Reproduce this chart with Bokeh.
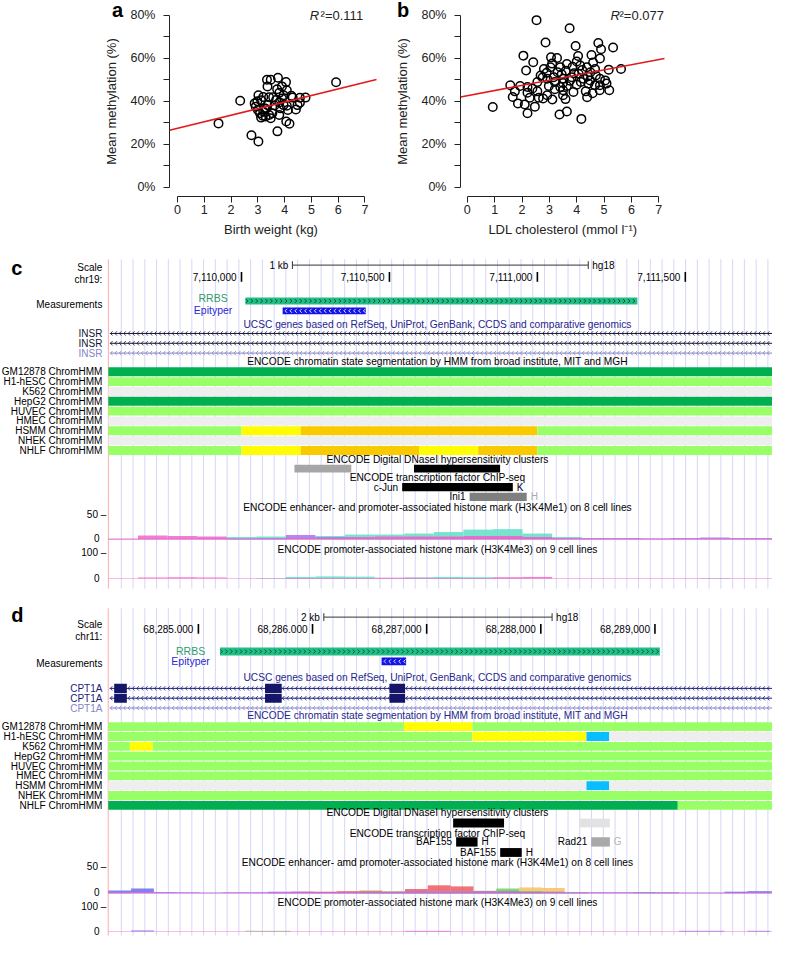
import numpy as np
from bokeh.plotting import figure
from bokeh.models import Range1d, FixedTicker, Label
from bokeh.layouts import column, row
from bokeh.embed import file_html
from bokeh.resources import INLINE
from bokeh.core.properties import value

FONT = "Liberation Sans"

# ============================ DATA ============================
# ---- panel a : birth weight vs mean methylation
a_birth_weight = [1.53, 2.34, 2.76, 3.02, 3.34, 3.48, 3.36, 3.75, 4.05, 3.90, 3.72, 4.08, 3.80, 3.96, 3.02,
                  3.20, 3.42, 3.57, 3.90, 4.30, 4.57, 4.78, 2.88, 2.92, 3.00, 3.12, 3.36, 3.80, 3.96, 4.08,
                  3.84, 4.12, 4.42, 4.48, 4.57, 3.08, 3.18, 3.29, 3.12, 3.42, 3.48, 3.20, 3.80, 3.54, 4.06,
                  4.18, 3.73, 5.92, 3.30, 3.62, 2.98, 3.25, 3.68, 4.25]
a_methylation = [29.7, 40.2, 24.2, 21.3, 50.0, 50.0, 46.9, 50.9, 48.9, 46.9, 45.6, 45.1, 43.9, 42.8, 42.8,
                 42.0, 41.9, 41.9, 41.3, 41.7, 41.6, 41.7, 39.0, 37.5, 35.9, 40.5, 38.2, 39.4, 38.2, 37.9,
                 36.7, 35.9, 36.2, 38.2, 39.3, 34.4, 33.3, 32.9, 32.4, 33.6, 32.1, 35.2, 33.6, 34.4, 30.6,
                 29.5, 26.0, 48.8, 36.4, 38.0, 40.0, 36.8, 40.6, 42.5]
a_fit_intercept = 27.4
a_fit_slope = 3.06
a_r2 = "0.111"

# ---- panel b : LDL cholesterol vs mean methylation
b_ldl = [0.93, 2.53, 3.74, 2.86, 3.96, 4.79, 5.33, 4.89, 2.05, 4.05, 4.54, 3.06, 3.28, 4.85, 2.41, 2.15,
         2.80, 3.04, 3.40, 3.64, 4.13, 4.37, 4.67, 5.17, 5.62, 2.68, 2.92, 3.16, 3.52, 3.82, 4.07, 4.25,
         4.49, 4.85, 5.04, 2.56, 2.98, 3.40, 3.64, 4.00, 4.43, 4.67, 4.85, 5.09, 1.57, 1.93, 2.20, 2.38,
         1.74, 2.56, 3.20, 3.50, 4.33, 4.58, 4.84, 5.19, 2.20, 1.66, 2.28, 2.61, 2.77, 3.11, 3.59, 4.38,
         1.85, 2.10, 2.47, 2.20, 3.37, 3.64, 4.17, 3.50, 3.88, 2.92, 3.30, 3.60, 3.90, 4.20, 4.50, 2.90,
         3.50, 3.75, 4.15, 4.40, 3.20, 2.75, 4.70, 3.85, 3.45, 4.00, 3.10, 4.60]
b_methylation = [37.3, 77.7, 73.9, 67.3, 65.7, 67.1, 65.0, 64.2, 61.2, 61.0, 61.5, 60.4, 60.1, 59.9, 58.1, 54.3,
                 55.0, 55.8, 55.8, 57.3, 56.6, 55.8, 55.0, 54.7, 55.0, 52.0, 50.5, 51.2, 50.5, 51.2, 52.8, 50.5,
                 49.7, 50.5, 49.7, 48.9, 47.1, 46.6, 47.1, 47.7, 48.2, 47.4, 47.4, 48.2, 47.4, 47.1, 46.6, 45.9,
                 44.6, 44.6, 45.6, 45.1, 44.6, 43.7, 45.1, 45.1, 44.0, 42.0, 41.6, 41.6, 41.3, 40.8, 41.0, 41.9,
                 39.0, 38.5, 37.5, 34.4, 33.8, 35.2, 31.8, 42.8, 44.3, 42.8, 53.5, 54.2, 53.0, 54.5, 53.5, 53.2,
                 48.5, 49.5, 49.0, 51.5, 49.0, 51.0, 52.0, 56.0, 52.5, 58.5, 57.5, 58.0]
b_fit_intercept = 42.6
b_fit_slope = 2.40
b_r2 = "0.077"

y_ticks = [0, 10, 20, 30, 40, 50, 60, 70, 80]
y_tick_labels = {0: "0%", 10: "", 20: "20%", 30: "", 40: "40%", 50: "", 60: "60%", 70: "", 80: "80%"}
x_ticks = [0, 1, 2, 3, 4, 5, 6, 7]

# ---- shared browser vocabularies
hmm_cells = ["GM12878", "H1-hESC", "K562", "HepG2", "HUVEC", "HMEC", "HSMM", "NHEK", "NHLF"]
hmm_colors = {"TxnElong": "#00B050", "WeakTxn": "#99FF66", "Heterochrom": "#EEEEEE",
              "WeakEnh": "#FFFC04", "StrongEnh": "#FACA00", "Insulator": "#0ABEFE"}

# ---- panel c : chr19 (INSR), hg18
c_chrom = "chr19:"
c_tick_pos = [7110000, 7110500, 7111000, 7111500]
c_tick_labels = ["7,110,000", "7,110,500", "7,111,000", "7,111,500"]
c_view = (7109550, 7111795)
c_scale_start, c_scale_len, c_scale_label = 7110172, 1000, "1 kb"
c_rrbs = (7110013, 7111338)
c_epityper = (7110139, 7110420)
c_gene_names = ["INSR", "INSR", "INSR"]
c_exon_starts = [[], [], []]
c_exon_ends = [[], [], []]
c_hmm_row = [0, 1, 2, 3, 4, 5, 6, 6, 6, 6, 7, 8, 8, 8, 8, 8, 8]
c_hmm_start = [7109550, 7109550, 7109550, 7109550, 7109550, 7109550, 7109550, 7110000, 7110200, 7111000,
               7109550, 7109550, 7110000, 7110200, 7110600, 7110800, 7111000]
c_hmm_end = [7111795, 7111795, 7111795, 7111795, 7111795, 7111795, 7110000, 7110200, 7111000, 7111795,
             7111795, 7110000, 7110200, 7110600, 7110800, 7111000, 7111795]
c_hmm_state = ["TxnElong", "WeakTxn", "Heterochrom", "TxnElong", "WeakTxn", "Heterochrom", "WeakTxn",
               "WeakEnh", "StrongEnh", "WeakTxn", "Heterochrom", "WeakTxn", "WeakEnh", "StrongEnh",
               "WeakEnh", "StrongEnh", "WeakTxn"]
c_dnase_start = [7110179, 7110583]
c_dnase_end = [7110371, 7110874]
c_dnase_shade = ["#a6a6a6", "#000000"]
c_tf_name = ["c-Jun", "Ini1"]
c_tf_row = [0, 1]
c_tf_start = [7110543, 7110771]
c_tf_end = [7110917, 7110964]
c_tf_cell = ["K", "H"]
c_tf_shade = ["#000000", "#7f7f7f"]
c_tf_cell_color = ["#000000", "#aaaaaa"]
c_sig_start, c_sig_bin = 7109550, 100
c_me1_cyan = [0, 0, 0, 0, 5, 6, 4, 7, 10, 10, 12, 15, 20, 21, 12, 5, 1, 1, 1, 1, 1, 1, 1]
c_me1_purple = [1, 2, 2, 3, 2, 3, 9, 5, 4, 4, 5, 5, 6, 6, 5, 3, 3, 3, 2, 3, 4, 3, 3]
c_me1_pink = [2, 8, 7, 6, 2, 2, 3, 3, 5, 6, 6, 6, 7, 7, 5, 3, 2, 2, 2, 2, 2, 2, 2]
c_me3_cyan = [0, 0, 0, 0, 0, 2, 7, 9, 8, 3, 5, 7, 6, 2, 1, 0, 0, 0, 0, 0, 2, 0, 0]
c_me3_pink = [2, 5, 6, 5, 2, 2, 3, 3, 3, 4, 4, 3, 3, 6, 7, 2, 2, 2, 2, 2, 2, 2, 2]

# ---- panel d : chr11 (CPT1A), hg18
d_chrom = "chr11:"
d_tick_pos = [68285000, 68286000, 68287000, 68288000, 68289000]
d_tick_labels = ["68,285.000", "68,286.000", "68,287,000", "68,288,000", "68,289,000"]
d_view = (68284210, 68290030)
d_scale_start, d_scale_len, d_scale_label = 68286099, 2000, "2 kb"
d_rrbs = (68285189, 68289043)
d_epityper = (68286605, 68286820)
d_gene_names = ["CPT1A", "CPT1A", "CPT1A"]
d_exon_starts = [[68284262, 68285584, 68286674], [68284262, 68285584, 68286674], []]
d_exon_ends = [[68284373, 68285730, 68286811], [68284373, 68285730, 68286811], []]
d_hmm_row = [0, 0, 0, 1, 1, 1, 1, 2, 2, 2, 3, 4, 5, 6, 6, 6, 7, 8, 8]
d_hmm_start = [68284210, 68286800, 68287400, 68284210, 68287400, 68288400, 68288600, 68284210, 68284400,
               68284600, 68284210, 68284210, 68284210, 68284210, 68288400, 68288600, 68284210, 68284210,
               68289200]
d_hmm_end = [68286800, 68287400, 68290030, 68287400, 68288400, 68288600, 68290030, 68284400, 68284600,
             68290030, 68290030, 68290030, 68290030, 68288400, 68288600, 68290030, 68290030, 68289200,
             68290030]
d_hmm_state = ["WeakTxn", "WeakEnh", "WeakTxn", "WeakTxn", "WeakEnh", "Insulator", "Heterochrom",
               "WeakTxn", "WeakEnh", "WeakTxn", "WeakTxn", "WeakTxn", "WeakTxn", "Heterochrom",
               "Insulator", "Heterochrom", "WeakTxn", "TxnElong", "WeakTxn"]
d_dnase_start = [68287232, 68288339]
d_dnase_end = [68287678, 68288605]
d_dnase_shade = ["#000000", "#e2e2e2"]
d_tf_name = ["BAF155", "BAF155", "Rad21"]
d_tf_row = [0, 1, 0]
d_tf_start = [68287258, 68287644, 68288442]
d_tf_end = [68287446, 68287833, 68288605]
d_tf_cell = ["H", "H", "G"]
d_tf_shade = ["#000000", "#000000", "#a9a9a9"]
d_tf_cell_color = ["#000000", "#000000", "#b5b5b5"]
d_sig_start, d_sig_bin = 68284210, 200
d_me1_red = [0, 0, 0, 0, 0, 0, 0, 1, 3, 3, 4, 5, 2, 8, 15, 13, 4, 2, 1, 0, 0, 0, 0, 0, 0, 0, 0, 0, 0, 0]
d_me1_orange = [0, 0, 0, 0, 0, 0, 0, 0, 0, 0, 0, 0, 4, 3, 4, 4, 5, 6, 11, 10, 2, 0, 0, 0, 0, 0, 0, 1, 0, 0]
d_me1_green = [2, 0, 0, 0, 0, 0, 0, 0, 0, 0, 0, 3, 3, 2, 2, 3, 4, 9, 4, 2, 1, 0, 0, 2, 1, 0, 0, 0, 0, 0]
d_me1_blue = [5, 9, 2, 1, 1, 1, 1, 1, 1, 1, 1, 1, 1, 1, 1, 1, 1, 1, 1, 1, 1, 1, 1, 1, 1, 1, 1, 3, 4, 4]
d_me1_purple = [1, 1, 2, 2, 1, 2, 2, 3, 3, 2, 2, 2, 3, 4, 4, 4, 4, 4, 3, 3, 2, 2, 2, 2, 2, 1, 1, 2, 2, 2]
d_me1_pink = [2, 2, 1, 1, 1, 1, 1, 1, 1, 1, 1, 1, 1, 1, 1, 1, 1, 1, 1, 1, 1, 1, 1, 1, 1, 1, 1, 1, 1, 1]
d_me3_pink = [2, 2, 2, 2, 2, 2, 2, 2, 2, 2, 2, 2, 2, 2, 2, 2, 2, 2, 2, 2, 2, 2, 2, 2, 2, 2, 2, 2, 2, 2]
d_me3_blue = [0, 4, 0, 0, 0, 0, 0, 0, 0, 0, 0, 0, 0, 0, 0, 0, 0, 0, 0, 0, 0, 0, 0, 0, 0, 3, 3, 0, 3, 0]
d_me3_green = [0, 0, 0, 0, 0, 0, 3, 3, 0, 0, 0, 0, 0, 0, 0, 0, 0, 0, 0, 0, 0, 0, 0, 0, 0, 0, 0, 0, 0, 0]
d_me3_purple = [0, 0, 0, 0, 0, 0, 0, 0, 0, 0, 0, 0, 0, 3, 3, 0, 0, 0, 0, 0, 0, 0, 0, 0, 0, 0, 0, 0, 0, 0]

SIG = {"cyan": "#5fdfc5", "purple": "#b06ef0", "pink": "#f266c6", "red": "#f05a5a",
       "orange": "#f7c35f", "green": "#6fd35f", "blue": "#6b6bef"}


# ============================ SCATTER PANELS ============================
def scatter_panel(xs, ys, intercept, slope, r2, letter, xlabel, x_axis_at, x_right, frame_left_px,
                  frame_w_px, r2x, letter_x):
    W, H = 386, 241
    # frame covers the whole figure; the axes are pinned with fixed_location
    kx = frame_w_px / (x_right - x_axis_at)
    x0 = x_axis_at - frame_left_px / kx
    x1 = x_right + (W - frame_left_px - frame_w_px) / kx
    ky = (186.8 - 14.7) / 80.0
    y1 = 80 + 14.7 / ky
    y0 = -(H - 186.8) / ky
    p = figure(width=W, height=H, x_range=Range1d(x0, x1), y_range=Range1d(y0, y1),
               output_backend="svg", toolbar_location=None, min_border=0)
    p.outline_line_color = None
    p.grid.visible = False
    p.xaxis.fixed_location = -4.1
    p.yaxis.fixed_location = x_axis_at
    p.xaxis.bounds = (0, 7)
    p.xaxis.ticker = FixedTicker(ticks=x_ticks)
    p.yaxis.bounds = (0, 80)
    p.yaxis.ticker = FixedTicker(ticks=y_ticks)
    p.yaxis.major_label_overrides = y_tick_labels
    for ax in p.axis:
        ax.major_tick_in = 0
        ax.major_tick_out = 6
        ax.minor_tick_line_color = None
        ax.axis_line_color = "#222222"
        ax.major_tick_line_color = "#222222"
        ax.major_label_text_font = FONT
        ax.major_label_text_font_size = "12.5px"
        ax.major_label_text_color = "#222222"
        ax.axis_label_text_font = FONT
        ax.axis_label_text_font_size = "13px"
        ax.axis_label_text_font_style = "normal"
        ax.axis_label_text_color = "#222222"
    p.xaxis.major_label_standoff = 3
    p.yaxis.major_label_standoff = 8
    p.xaxis.axis_label = xlabel
    p.yaxis.axis_label = "Mean methylation (%)"
    p.xaxis.axis_label_standoff = 4
    p.yaxis.axis_label_standoff = 8
    p.scatter(x=xs, y=ys, size=8.5, marker="circle", fill_color=None, line_color="black", line_width=1.5)
    fx = [x_axis_at, x_right]
    p.line(x=fx, y=[intercept + slope * v for v in fx], line_color="#e31a1c", line_width=1.6)
    p.add_layout(Label(x=r2x, y=80, text="\u00b2=" + r2, text_align="right", text_baseline="middle",
                       text_font=FONT, text_font_size="13px", text_color="#222222"))
    p.add_layout(Label(x=r2x, y=80, x_offset=-44, text="R", text_align="right", text_baseline="middle",
                       text_font=FONT, text_font_size="13px", text_font_style="italic", text_color="#222222"))
    p.add_layout(Label(x=letter_x, y=82.5, text=letter, text_align="left", text_baseline="middle",
                       text_font=FONT, text_font_size="20px", text_font_style="bold", text_color="black"))
    return p


pa = scatter_panel(a_birth_weight, a_methylation, a_fit_intercept, a_fit_slope, a_r2, "a",
                   "Birth weight (kg)", -0.30, 7.43, 169, 207, 6.93, -2.45)
pb = scatter_panel(b_ldl, b_methylation, b_fit_intercept, b_fit_slope, b_r2, "b",
                   "LDL cholesterol (mmol l\u207b\u00b9)", -0.25, 7.21, 74, 204, 7.19, -2.57)


# ============================ BROWSER PANELS ============================
TS = "10px"


def texts(p, xs, ys, labels, color="black", align="left", size=TS, style="normal", x_offset=0):
    p.text(x=list(xs), y=list(ys), text=list(labels), text_color=color, text_align=value(align),
           text_baseline=value("middle"), text_font=value(FONT), text_font_size=value(size),
           text_font_style=value(style), x_offset=x_offset)


def chevrons(p, x0, x1, y, pxbp, spacing_px, direction, color, h=2.2, w=2.2, lw=1.0):
    step = spacing_px / pxbp
    xs = np.arange(x0 + step / 2, x1 - step / 4, step)
    wb = w / pxbp
    tail = xs + wb if direction == "<" else xs - wb
    n = len(xs)
    p.segment(x0=np.concatenate([tail, tail]), y0=np.concatenate([np.full(n, y - h), np.full(n, y + h)]),
              x1=np.concatenate([xs, xs]), y1=np.full(2 * n, y), line_color=color, line_width=lw)


def signal(p, name, base_px, top_px, top_val, ybot, ytop, start, binw, view_end, series):
    k = (base_px - top_px) / top_val
    rngs = dict(p.extra_y_ranges)
    rngs[name] = Range1d(start=(base_px - ybot) / k, end=(base_px - ytop) / k)
    p.extra_y_ranges = rngs
    for vals, col in series:
        n = len(vals)
        left = start + binw * np.arange(n)
        right = np.minimum(left + binw, view_end)
        p.quad(left=left, right=right, bottom=0, top=vals, y_range_name=name,
               fill_color=col, fill_alpha=0.85, line_color=None)


def browser_panel(letter, pos, pxbp, ybot, ytop, height, L, chrom_label, tick_pos, tick_labels,
                  scale_start, scale_len, scale_label, view, rrbs, epi, gene_names, gene_colors,
                  exon_starts, exon_ends, ucsc_color, encode_color,
                  hmm_row, hmm_start, hmm_end, hmm_state,
                  dn_start, dn_end, dn_shade, tf_name, tf_row, tf_start, tf_end, tf_cell, tf_shade,
                  tf_cell_color, me1_title, sig_start, sig_bin, me1_series, me3_series):
    p = figure(width=772, height=height, x_range=Range1d(pos(0), pos(788)), y_range=Range1d(ybot, ytop),
               output_backend="svg", toolbar_location=None, min_border=0,
               x_axis_type=None, y_axis_type=None)
    p.outline_line_color = None
    p.grid.visible = False
    vs, ve = view
    lab_x = pos(104)
    cx = pos(446)
    g0, g1 = L["grid"]
    TT = "10.2px"

    gx = np.arange(pos(123.3), ve, 12 / pxbp)
    p.segment(x0=gx, y0=g0, x1=gx, y1=g1, line_color="#d6d6f6", line_width=1)
    p.segment(x0=[vs], y0=[g0], x1=[vs], y1=[g1], line_color="#ffaaaa", line_width=1)

    texts(p, [pos(11)], [L["letter_y"]], [letter], size="20px", style="bold")
    texts(p, [lab_x, lab_x], [L["scale_y"], L["chrom_y"]], ["Scale", chrom_label], align="right")
    sb = L["scalebar_y"]
    p.segment(x0=[scale_start], y0=[sb], x1=[scale_start + scale_len], y1=[sb], line_color="#333333", line_width=1)
    p.segment(x0=[scale_start, scale_start + scale_len], y0=[sb - 4, sb - 4],
              x1=[scale_start, scale_start + scale_len], y1=[sb + 4, sb + 4], line_color="#333333", line_width=1)
    texts(p, [scale_start], [sb], [scale_label], align="right", x_offset=-4)
    texts(p, [scale_start + scale_len], [sb], ["hg18"], align="left", x_offset=4)
    py = L["pos_y"]
    p.segment(x0=tick_pos, y0=py - 5, x1=tick_pos, y1=py + 5, line_color="black", line_width=1.6)
    texts(p, tick_pos, [py] * len(tick_pos), tick_labels, align="right", x_offset=-5)

    mx = pos(L["meas_text_x"])
    texts(p, [lab_x], [L["meas_y"]], ["Measurements"], align="right")
    texts(p, [mx], [L["rrbs_txt_y"]], ["RRBS"], color="#2f9a6c", align="center", size="10.5px")
    texts(p, [mx], [L["epi_txt_y"]], ["Epityper"], color="#2a2ad6", align="center", size="10.5px")
    rb, eb = L["rrbs_bar"], L["epi_bar"]
    p.quad(left=[rrbs[0]], right=[rrbs[1]], bottom=[rb[0]], top=[rb[1]], fill_color="#1fbf86", line_color=None)
    chevrons(p, rrbs[0], rrbs[1], (rb[0] + rb[1]) / 2, pxbp, 5, ">", "#0e3d2c", h=2, w=2, lw=0.9)
    p.quad(left=[epi[0]], right=[epi[1]], bottom=[eb[0]], top=[eb[1]], fill_color="#1414e6", line_color=None)
    chevrons(p, epi[0], epi[1], (eb[0] + eb[1]) / 2, pxbp, 5, "<", "white", h=2, w=2, lw=0.9)

    texts(p, [cx], [L["ucsc_y"]],
          ["UCSC genes based on RefSeq, UniProt, GenBank, CCDS and comparative genomics"],
          color=ucsc_color, align="center", size=TT)
    for i, gname in enumerate(gene_names):
        gy = L["gene_y"][i]
        col = gene_colors[i]
        p.segment(x0=[vs + 1.5 / pxbp], y0=[gy], x1=[ve], y1=[gy], line_color=col, line_width=1)
        chevrons(p, vs, ve, gy, pxbp, 4.5, "<", col, h=2.2, w=2.0, lw=0.8)
        if exon_starts[i]:
            p.quad(left=exon_starts[i], right=exon_ends[i], bottom=gy - L["exon_h"], top=gy + L["exon_h"],
                   fill_color="#15156a", line_color=None)
        texts(p, [lab_x], [gy], [gname], color=col, align="right")

    texts(p, [cx], [L["encode_y"]],
          ["ENCODE chromatin state segmentation by HMM from broad institute, MIT and MGH"],
          color=encode_color, align="center", size=TT)
    tops = [L["hmm_top"] + 10 * r for r in hmm_row]
    p.quad(left=hmm_start, right=hmm_end, bottom=[t + 9 for t in tops], top=tops,
           fill_color=[hmm_colors[s] for s in hmm_state], line_color=None)
    texts(p, [lab_x] * len(hmm_cells), [L["hmm_top"] + 10 * r + 4.5 for r in range(len(hmm_cells))],
          [c + " ChromHMM" for c in hmm_cells], align="right")

    texts(p, [cx], [L["dnase_txt_y"]], ["ENCODE Digital DNaseI hypersensitivity clusters"], align="center", size=TT)
    db = L["dnase_bar"]
    p.quad(left=dn_start, right=dn_end, bottom=db[0], top=db[1], fill_color=dn_shade, line_color=None)

    texts(p, [cx], [L["tf_txt_y"]], ["ENCODE transcription factor ChIP-seq"], align="center", size=TT)
    rows = [L["tf_rows"][r] for r in tf_row]
    p.quad(left=tf_start, right=tf_end, bottom=[r[0] for r in rows], top=[r[1] for r in rows],
           fill_color=tf_shade, line_color=None)
    mids = [(r[0] + r[1]) / 2 for r in rows]
    texts(p, tf_start, mids, tf_name, align="right", x_offset=-4)
    for xe, ym, c, cc in zip(tf_end, mids, tf_cell, tf_cell_color):
        texts(p, [xe], [ym], [c], color=cc, align="left", x_offset=4)

    texts(p, [cx], [L["me1_txt_y"]], [me1_title], align="center", size=TT)
    texts(p, [cx], [L["me3_txt_y"]], ["ENCODE promoter-associated histone mark (H3K4Me3) on 9 cell lines"],
          align="center", size=TT)
    texts(p, [pos(108), pos(101), pos(108), pos(101)],
          [L["me1_top"], L["me1_base"] - 1, L["me3_top"], L["me3_base"] - 1],
          ["50 \u2013", "0", "100 \u2013", "0"], align="right")
    signal(p, "me1", L["me1_base"], L["me1_top"], 50, ybot, ytop, sig_start, sig_bin, ve, me1_series)
    signal(p, "me3", L["me3_base"], L["me3_top"], 100, ybot, ytop, sig_start, sig_bin, ve, me3_series)
    return p


def c_pos(px):
    return 7110000 + (px - 246) / 0.302


def d_pos(px):
    return 68285000 + (px - 202) / 0.1165


L_c = dict(grid=(263, 598), letter_y=272, scale_y=271, chrom_y=284, pos_y=281, scalebar_y=269,
           meas_y=309, meas_text_x=217, rrbs_txt_y=302, epi_txt_y=315, rrbs_bar=(302, 309), epi_bar=(312, 319),
           ucsc_y=329, gene_y=[338.5, 348.5, 358.5], exon_h=4.6, encode_y=367.5, hmm_top=373,
           dnase_txt_y=467, dnase_bar=(472, 480), tf_txt_y=485, tf_rows=[(490.5, 499), (500.5, 509)],
           me1_txt_y=516, me1_base=548, me1_top=523, me3_txt_y=558, me3_base=588, me3_top=561)
L_d = dict(grid=(618, 951), letter_y=625, scale_y=634, chrom_y=647, pos_y=639, scalebar_y=627,
           meas_y=674, meas_text_x=194, rrbs_txt_y=661, epi_txt_y=672, rrbs_bar=(658, 666), epi_bar=(668, 676),
           ucsc_y=688, gene_y=[699.5, 709.5, 719.5], exon_h=4.6, encode_y=727.5, hmm_top=734,
           dnase_txt_y=826, dnase_bar=(832, 841), tf_txt_y=847, tf_rows=[(851, 860.5), (862, 871)],
           me1_txt_y=877, me1_base=908, me1_top=881, me3_txt_y=917, me3_base=947, me3_top=921)

# uniform vertical scale: top row 241 px, panel c 354 px (ref 245-605), panel d 342 px (ref 605-953)
pc = browser_panel("c", c_pos, 0.302, 605, 245, 354, L_c, c_chrom, c_tick_pos, c_tick_labels,
                   c_scale_start, c_scale_len, c_scale_label, c_view, c_rrbs, c_epityper, c_gene_names,
                   ["#141433", "#141433", "#8484c8"], c_exon_starts, c_exon_ends, "#26268e", "black",
                   c_hmm_row, c_hmm_start, c_hmm_end, c_hmm_state,
                   c_dnase_start, c_dnase_end, c_dnase_shade, c_tf_name, c_tf_row, c_tf_start, c_tf_end,
                   c_tf_cell, c_tf_shade, c_tf_cell_color,
                   "ENCODE enhancer- and promoter-associated histone mark (H3K4Me1) on 8 cell lines",
                   c_sig_start, c_sig_bin,
                   [(c_me1_cyan, SIG["cyan"]), (c_me1_purple, SIG["purple"]), (c_me1_pink, SIG["pink"])],
                   [(c_me3_cyan, SIG["cyan"]), (c_me3_pink, SIG["pink"])])

pd_ = browser_panel("d", d_pos, 0.1165, 953, 605, 342, L_d, d_chrom, d_tick_pos, d_tick_labels,
                    d_scale_start, d_scale_len, d_scale_label, d_view, d_rrbs, d_epityper, d_gene_names,
                    ["#1b1b78", "#1b1b78", "#8484c8"], d_exon_starts, d_exon_ends, "#26268e", "#26268e",
                    d_hmm_row, d_hmm_start, d_hmm_end, d_hmm_state,
                    d_dnase_start, d_dnase_end, d_dnase_shade, d_tf_name, d_tf_row, d_tf_start, d_tf_end,
                    d_tf_cell, d_tf_shade, d_tf_cell_color,
                    "ENCODE enhancer- amd promoter-associated histone mark (H3K4Me1) on 8 cell lines",
                    d_sig_start, d_sig_bin,
                    [(d_me1_red, SIG["red"]), (d_me1_orange, SIG["orange"]), (d_me1_green, SIG["green"]),
                     (d_me1_blue, SIG["blue"]), (d_me1_purple, SIG["purple"]), (d_me1_pink, SIG["pink"])],
                    [(d_me3_blue, SIG["blue"]), (d_me3_green, SIG["green"]), (d_me3_purple, SIG["purple"]),
                     (d_me3_pink, SIG["pink"])])

layout = column(row(pa, pb), pc, pd_)
open("out.html", "w").write(file_html(layout, INLINE))
